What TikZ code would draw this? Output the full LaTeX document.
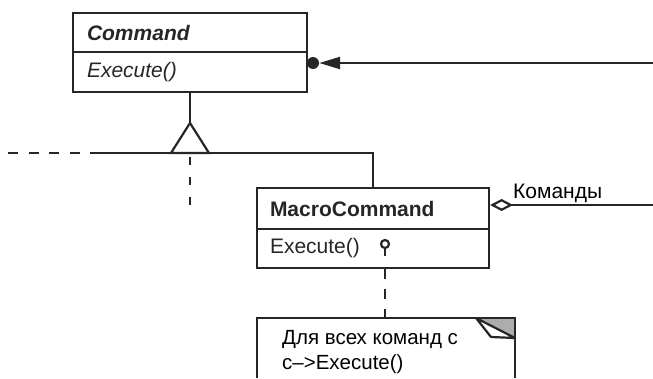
\documentclass[tikz,border=0pt]{standalone}
\usepackage{fontspec}
\setmainfont{Liberation Sans}
\usetikzlibrary{arrows.meta}

\tikzset{
  uml/.style={line width=2.2pt, black!85},
  compart/.style={draw, uml, inner xsep=14pt, inner ysep=0pt, text width=206pt,
    align=left, minimum height=40pt, font=\fontsize{21}{25}\selectfont},
  dotnode/.style={circle, fill=black!85, inner sep=0pt, minimum size=12pt},
  pinnode/.style={circle, draw, uml, inner sep=0pt, minimum size=8pt},
  notetext/.style={align=left, inner sep=0pt, font=\fontsize{20.5}{25}\selectfont},
}

\begin{document}
\begin{tikzpicture}[x=1pt,y=-1pt]
\useasboundingbox (0,0) rectangle (653,378);
% Command
\node[compart, minimum height=39pt, font=\fontsize{21}{25}\selectfont\bfseries\itshape] (cmdname) at (190,32.5) {Command};
\node[compart, font=\fontsize{21}{25}\selectfont\itshape] (cmdops) at (190,72) {Execute()};
% MacroCommand
\node[compart, inner xsep=13pt, minimum height=41pt, font=\fontsize{21}{25}\selectfont\bfseries] (macname) at (373,208.5) {MacroCommand};
\node[compart, inner xsep=13pt, minimum height=39pt] (macops) at (373,248.5) {Execute()};
\node[pinnode] (pin) at (385,244) {};
\draw[uml] (pin.south) -- ++(0,7);
% generalization
\coordinate (apex) at (cmdops.south |- 0,123);
\draw[uml] (cmdops.south) -- (apex);
\draw[uml] (apex) -- ++(-19,30) coordinate (baseL) -- ++(38,0) coordinate (baseR) -- cycle;
\coordinate (busL) at (92,153);
\coordinate (dashL) at (8,153);
\coordinate (dashD) at (apex |- 0,205);
\draw[uml] (busL) -- (baseL);
\draw[uml] (baseR) -- (baseR -| macname.north) -- (macname.north);
\draw[uml, dash pattern=on 10pt off 10.5pt] (dashL) -- (busL);
\draw[uml, dash pattern=on 8pt off 12pt] (apex |- baseL) ++(0,4) -- (dashD);
% reference into Command
\coordinate (cmdin) at (653,63);
\node[dotnode] (cmddot) at (313,63) {};
\draw[uml, -{Triangle[length=21pt,width=12pt]}] (cmdin) -- (cmddot);
% aggregation
\coordinate (aggend) at (653,205);
\draw[uml, {Diamond[open, fill=white, length=23pt, width=12pt]}-] (aggend -| macname.east) -- (aggend);
\node[anchor=base west, inner sep=0pt, font=\fontsize{21}{25}\selectfont] (agglabel) at (513,198) {Команды};
% note
\coordinate (notetop) at (pin |- 0,318);
\draw[uml, dash pattern=on 10pt off 10pt] (pin |- macops.south) -- (notetop);
\fill[black!32] (476,318) -- (515,318) -- (515,338) -- cycle;
\draw[uml] (257,378) -- (257,318) -- (515,318) -- (515,378);
\filldraw[uml, fill=white, line join=round] (476,318) -- (491,337) -- (515,338) -- cycle;
\node[notetext, anchor=base west] (notetxt) at (282,369) {Для всех команд с\\c–>Execute()};
\end{tikzpicture}
\end{document}
